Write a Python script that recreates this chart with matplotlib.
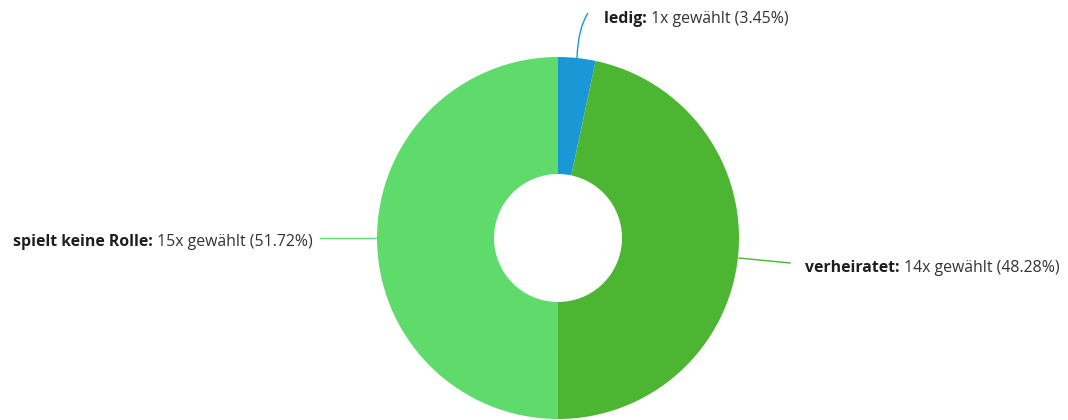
import matplotlib
matplotlib.use("Agg")
import matplotlib.pyplot as plt
from matplotlib.path import Path
from matplotlib.patches import PathPatch

# Data
categories = ["ledig", "verheiratet", "spielt keine Rolle"]
counts = [1, 14, 15]
percents = [3.45, 48.28, 51.72]
colors = ["#1a98d6", "#4cb531", "#5edb6b"]

W, H = 1068, 420
fig = plt.figure(figsize=(W / 100, H / 100), dpi=100)
ax = fig.add_axes([0, 0, 1, 1])

cx, cy = 558, H - 238
r_out, r_in = 181, 64

ax.pie(percents, colors=colors, startangle=90, counterclock=False,
       center=(cx, cy), radius=r_out,
       wedgeprops=dict(width=r_out - r_in, linewidth=0),
       frame=True)
ax.set_xlim(0, W)
ax.set_ylim(0, H)
ax.set_aspect("equal")
ax.axis("off")

plt.rcParams["font.family"] = ["Open Sans", "DejaVu Sans"]
fs = 11.4
txt_col = "#333333"


def label(x, y, cat, n, p, ha="left"):
    bold = f"{cat}: "
    rest = f"{n}x gewählt ({p:.2f}%)"
    if ha == "left":
        t = ax.text(x, y, bold, fontsize=fs, fontweight="bold", color="#1e1e1e",
                    ha="left", va="center")
        fig.canvas.draw()
        bb = t.get_window_extent()
        ax.text(x + bb.width, y, rest, fontsize=fs, color=txt_col,
                ha="left", va="center")
    else:
        t = ax.text(x, y, rest, fontsize=fs, color=txt_col, ha="right", va="center")
        fig.canvas.draw()
        bb = t.get_window_extent()
        ax.text(x - bb.width, y, bold, fontsize=fs, fontweight="bold",
                color="#1e1e1e", ha="right", va="center")


# Connector lines
verts = [(577, H - 58), (578, H - 28), (588, H - 13)]
ax.add_patch(PathPatch(Path(verts, [Path.MOVETO, Path.CURVE3, Path.CURVE3]),
                       fill=False, edgecolor=colors[0], lw=1))
ax.plot([739, 790], [H - 258, H - 263], color=colors[1], lw=1)
ax.plot([320, 377], [H - 238, H - 238], color=colors[2], lw=1)

label(604, H - 19, categories[0], counts[0], percents[0])
label(805, H - 268, categories[1], counts[1], percents[1])
label(313, H - 242, categories[2], counts[2], percents[2], ha="right")

fig.savefig("out.png", dpi=100)
